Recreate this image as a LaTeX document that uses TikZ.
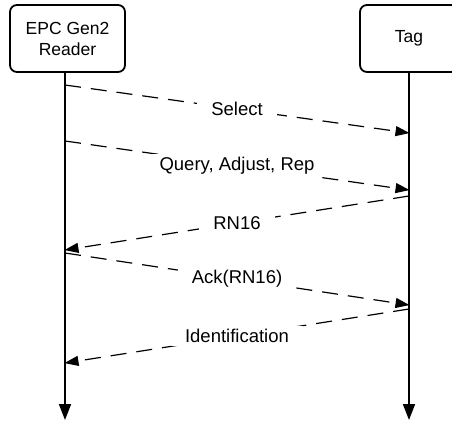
\documentclass[tikz,border=0pt]{standalone}
\usepackage{fontspec}
\setmainfont{Liberation Sans}
\usetikzlibrary{arrows.meta}
\begin{document}
\begin{tikzpicture}[x=1pt,y=-1pt,
  actor/.style={draw, line width=1.8pt, rounded corners=7pt, fill=white,
    align=center, inner sep=0pt, font=\fontsize{17.5}{21}\selectfont},
  lifeline/.style={line width=1.8pt, -{Triangle[length=16pt,width=12pt]}},
  msg/.style={line width=1.2pt, dash pattern=on 16pt off 10pt,
    -{Triangle[length=14pt,width=10pt]}, shorten >=-0.5pt},
  msglabel/.style={fill=white, inner xsep=14pt, inner ysep=3pt,
    font=\fontsize{18.5}{22}\selectfont}]
\useasboundingbox (0,0) rectangle (452,420);

% participants
\node[actor, minimum width=115pt, minimum height=67pt] (reader) at (67.5,38.5) {EPC Gen2\\Reader};
\node[actor, minimum width=98pt, minimum height=67pt] (tag) at (409,38.5) {Tag};

% lifelines
\coordinate (rtop) at (65,72);
\coordinate (rbot) at (65,420);
\coordinate (ttop) at (409,72);
\coordinate (tbot) at (409,420);
\draw[lifeline] (rtop) -- (rbot);
\draw[lifeline] (ttop) -- (tbot);

% message end points on the lifelines
\coordinate (r1) at (65,85);   \coordinate (t1) at (409,133);
\coordinate (r2) at (65,141);  \coordinate (t2) at (409,190);
\coordinate (t3) at (409,196); \coordinate (r3) at (65,250);
\coordinate (r4) at (65,253);  \coordinate (t4) at (409,305);
\coordinate (t5) at (409,309); \coordinate (r5) at (65,363);

% messages
\draw[msg] (r1) -- node[msglabel] {Select} (t1);
\draw[msg] (r2) -- node[msglabel] {Query, Adjust, Rep} (t2);
\draw[msg] (t3) -- node[msglabel] {RN16} (r3);
\draw[msg] (r4) -- node[msglabel] {Ack(RN16)} (t4);
\draw[msg] (t5) -- node[msglabel] {Identification} (r5);
\end{tikzpicture}
\end{document}
